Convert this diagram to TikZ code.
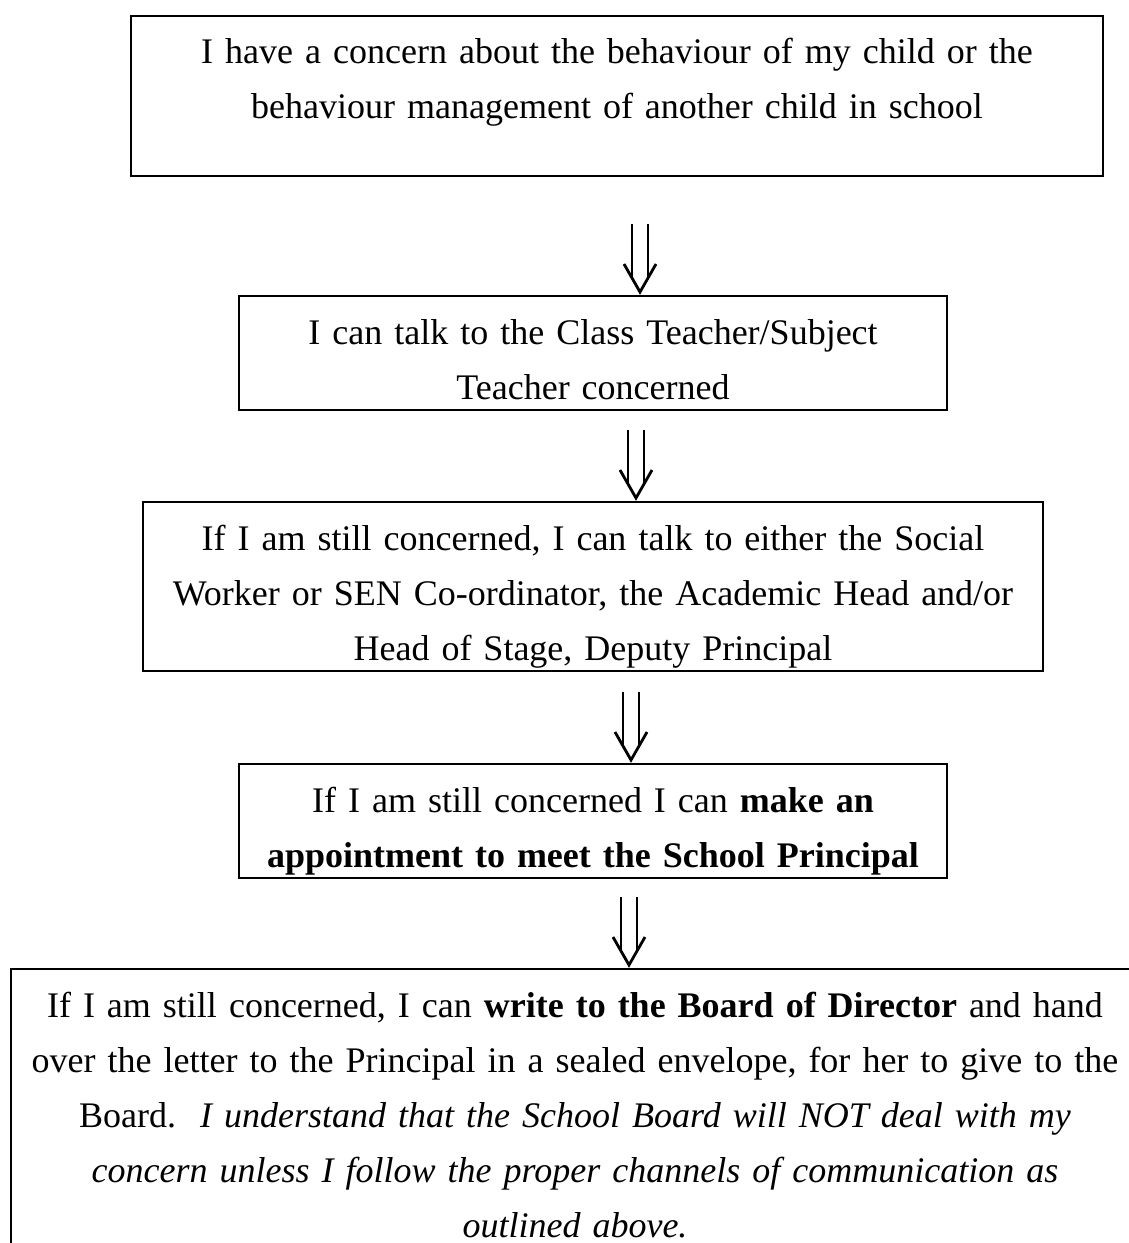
\documentclass[tikz,border=0pt]{standalone}
\usepackage{fontspec}
\setmainfont{Liberation Serif}

\begin{document}
\begin{tikzpicture}[
            x=1pt, y=-1pt,
            stage box/.style={draw, line width=2.7pt, anchor=north, align=center,
                inner xsep=0pt, inner ysep=0pt, outer sep=0pt, text height=48pt,
                font=\fontsize{36pt}{55pt}\selectfont},
            shaft/.style={line width=2.8pt},
            ]
            % #1 = box the arrow points at, #2 = sideways offset from its centre
            \def\dnarrow#1#2{%
                \coordinate (#1 tip) at ([xshift=#2, yshift=4pt]#1.north);
                \draw[shaft] ([xshift=-8pt, yshift=68pt]#1 tip) -- ([xshift=-8pt, yshift=14pt]#1 tip);
                \draw[shaft] ([xshift=8pt, yshift=68pt]#1 tip) -- ([xshift=8pt, yshift=14pt]#1 tip);
                \draw[shaft] ([xshift=-16pt, yshift=28pt]#1 tip) -- (#1 tip) -- ([xshift=16pt, yshift=28pt]#1 tip);
            }

            \useasboundingbox (0,0) rectangle (1129,1243);
            \clip (0,0) rectangle (1129,1243);

            \node[stage box, text width=972pt, text height=47pt, text depth=113pt] (concern) at (617,16)
                {I have a concern about the behaviour of my child or the\\
                 behaviour management of another child in school};
            \node[stage box, text width=708pt, text depth=66pt] (talk) at (593,296)
                {I can talk to the Class Teacher/Subject\\
                 Teacher concerned};
            \node[stage box, text width=900pt, text depth=121pt] (staff) at (593,502)
                {If I am still concerned, I can talk to either the Social\\
                 Worker or SEN Co-ordinator, the Academic Head and/or\\
                 Head of Stage, Deputy Principal};
            \node[stage box, text width=708pt, text depth=66pt] (principal) at (593,764)
                {If I am still concerned I can \textbf{make an}\\
                 \textbf{appointment to meet the School Principal}};
            \node[stage box, text width=1128pt, text depth=250pt] (board) at (575,969)
                {If I am still concerned, I can \textbf{write to the Board of Director} and hand\\
                 over the letter to the Principal in a sealed envelope, for her to give to the\\
                 Board.\ \ \textit{I understand that the School Board will NOT deal with my}\\
                 \textit{concern unless I follow the proper channels of communication as}\\
                 \textit{outlined above.}};

            \dnarrow{talk}{47pt}
            \dnarrow{staff}{43pt}
            \dnarrow{principal}{38pt}
            \dnarrow{board}{54pt}
        \end{tikzpicture}
\end{document}
